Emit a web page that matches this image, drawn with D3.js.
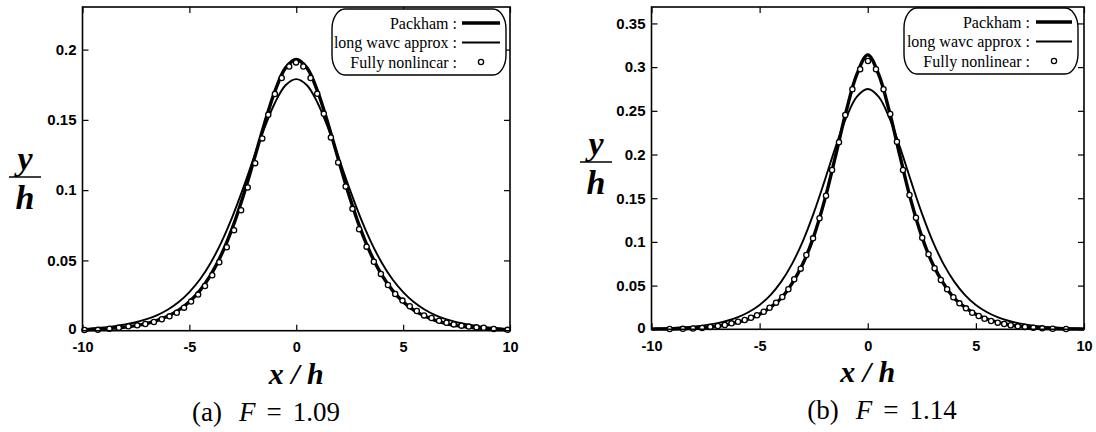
<!DOCTYPE html>
<html><head><meta charset="utf-8">
<script src="https://cdn.jsdelivr.net/npm/d3@7"></script>
<style>body{margin:0;background:#fff} svg{display:block}</style>
</head><body>
<svg id="c" width="1096" height="432"></svg>
<script>
// ---------- data ----------
const xGrid = [-10,-9.5,-9,-8.5,-8,-7.5,-7,-6.5,-6,-5.5,-5,-4.5,-4,-3.5,-3,-2.5,-2,-1.5,-1,-0.5,0,0.5,1,1.5,2,2.5,3,3.5,4,4.5,5,5.5,6,6.5,7,7.5,8,8.5,9,9.5,10];

// panel (a) F = 1.09
const packhamA = [0.0006,0.0009,0.0013,0.0018,0.0025,0.0036,0.0051,0.0073,0.0104,0.0146,0.0206,0.0287,0.0397,0.0542,0.0726,0.0950,0.1204,0.1466,0.1703,0.1870,0.1930,0.1870,0.1703,0.1466,0.1204,0.0950,0.0726,0.0542,0.0397,0.0287,0.0206,0.0146,0.0104,0.0073,0.0051,0.0036,0.0025,0.0018,0.0013,0.0009,0.0006];
const longWaveA = [0.0012,0.0017,0.0023,0.0032,0.0044,0.0060,0.0082,0.0111,0.0151,0.0204,0.0275,0.0366,0.0484,0.0630,0.0806,0.1007,0.1224,0.1437,0.1620,0.1746,0.1790,0.1746,0.1620,0.1437,0.1224,0.1007,0.0806,0.0630,0.0484,0.0366,0.0275,0.0204,0.0151,0.0111,0.0082,0.0060,0.0044,0.0032,0.0023,0.0017,0.0012];
const nonlinXA = [-9.91,-9.28,-8.74,-8.30,-7.85,-7.44,-7.06,-6.66,-6.29,-5.93,-5.59,-5.25,-4.92,-4.59,-4.27,-3.93,-3.60,-3.25,-2.91,-2.58,-2.27,-1.92,-1.59,-1.31,-1.00,-0.68,-0.33,-0.01,0.33,0.67,0.98,1.29,1.62,1.96,2.31,2.63,2.94,3.29,3.63,3.96,4.29,4.63,4.97,5.31,5.64,5.98,6.33,6.68,7.03,7.37,7.73,8.07,8.43,8.77,9.24,9.89];
const nonlinYA = [0.0005,0.0006,0.0014,0.0021,0.0031,0.0038,0.0048,0.0062,0.0081,0.0102,0.0128,0.0164,0.0207,0.0257,0.0318,0.0394,0.0487,0.0594,0.0715,0.0857,0.1019,0.1192,0.1368,0.1536,0.1684,0.1798,0.1880,0.1909,0.1880,0.1798,0.1686,0.1543,0.1375,0.1197,0.1026,0.0867,0.0722,0.0598,0.0491,0.0404,0.0325,0.0261,0.0214,0.0174,0.0140,0.0109,0.0090,0.0071,0.0057,0.0045,0.0036,0.0029,0.0024,0.0021,0.0012,0.0006];

// panel (b) F = 1.14
const packhamB = [0.0002,0.0003,0.0004,0.0007,0.0012,0.0021,0.0034,0.0054,0.0081,0.0118,0.0172,0.0251,0.0356,0.0525,0.0749,0.1061,0.1472,0.1972,0.2493,0.2920,0.3140,0.2920,0.2493,0.1972,0.1472,0.1061,0.0749,0.0525,0.0356,0.0251,0.0172,0.0118,0.0081,0.0054,0.0034,0.0021,0.0012,0.0007,0.0004,0.0003,0.0002];
const longWaveB = [0.0008,0.0011,0.0016,0.0023,0.0033,0.0048,0.0068,0.0098,0.0139,0.0198,0.0279,0.0392,0.0546,0.0749,0.1010,0.1330,0.1695,0.2076,0.2419,0.2662,0.2750,0.2662,0.2419,0.2076,0.1695,0.1330,0.1010,0.0749,0.0546,0.0392,0.0279,0.0198,0.0139,0.0098,0.0068,0.0048,0.0033,0.0023,0.0016,0.0011,0.0008];
const nonlinXB = [-9.16,-8.55,-8.08,-7.66,-7.28,-6.93,-6.61,-6.30,-6.00,-5.69,-5.40,-5.12,-4.81,-4.54,-4.24,-3.95,-3.67,-3.40,-3.10,-2.84,-2.53,-2.23,-1.93,-1.65,-1.33,-1.04,-0.71,-0.35,0.01,0.38,0.73,1.04,1.35,1.63,1.93,2.23,2.52,2.81,3.09,3.38,3.67,3.96,4.24,4.54,4.83,5.13,5.40,5.70,6.01,6.31,6.61,6.94,7.27,7.66,8.07,8.55,9.17];
const nonlinYB = [0.0003,0.0005,0.0010,0.0015,0.0026,0.0038,0.0049,0.0068,0.0087,0.0106,0.0133,0.0160,0.0201,0.0247,0.0305,0.0370,0.0458,0.0572,0.0694,0.0850,0.1041,0.1270,0.1529,0.1823,0.2140,0.2452,0.2746,0.2975,0.3070,0.2975,0.2746,0.2463,0.2146,0.1823,0.1537,0.1277,0.1048,0.0858,0.0698,0.0564,0.0458,0.0366,0.0297,0.0240,0.0190,0.0152,0.0121,0.0095,0.0076,0.0061,0.0046,0.0034,0.0026,0.0018,0.0011,0.0007,0.0004];

const xTicks = [-10,-5,0,5,10];
const xTickLabels = ["-10","-5","0","5","10"];
const yTicksA = [0,0.05,0.1,0.15,0.2];
const yTickLabelsA = ["0","0.05","0.1","0.15","0.2"];
const yTicksB = [0,0.05,0.1,0.15,0.2,0.25,0.3,0.35];
const yTickLabelsB = ["0","0.05","0.1","0.15","0.2","0.25","0.3","0.35"];
const legendLabelsA = ["Packham :","long wavc approx :","Fully nonlincar :"];
const legendLabelsB = ["Packham :","long wavc approx :","Fully nonlinear :"];
const captionA = ["(a)","F","=","1.09"];
const captionB = ["(b)","F","=","1.14"];

// ---------- drawing ----------
const svg = d3.select("#c");
const tickFont = "'Liberation Sans',Arial,sans-serif";
const serif = "'Liberation Serif','Times New Roman',serif";

function panel(cfg){
  const x = d3.scaleLinear().domain([-10,10]).range([cfg.left,cfg.right]);
  const y = d3.scaleLinear().domain([0,cfg.ymax]).range([cfg.bottom,cfg.top]);
  const g = svg.append("g");

  const tickStyle = sel => {
    sel.select(".domain").remove();
    sel.selectAll(".tick line").attr("stroke","#000").attr("stroke-width",1.2);
  };
  const labStyle = (size) => s => s.selectAll("text").attr("font-family",tickFont)
      .attr("font-weight","bold").attr("font-size",size).attr("fill","#000");

  g.append("g").attr("transform",`translate(${cfg.left},0)`)
    .call(d3.axisLeft(y).tickValues(cfg.yTicks).tickSize(-6).tickPadding(6)
      .tickFormat((d,i)=>cfg.yLabels[i]))
    .call(tickStyle).call(labStyle("15px"))
    .call(s=>s.selectAll("text").filter(d=>d===0).attr("dy","0.2em"));
  g.append("g").attr("transform",`translate(${cfg.right},0)`)
    .call(d3.axisRight(y).tickValues(cfg.yTicks).tickSize(-6).tickFormat(""))
    .call(tickStyle);
  g.append("g").attr("transform",`translate(0,${cfg.bottom})`)
    .call(d3.axisBottom(x).tickValues(xTicks).tickSize(-6).tickPadding(11)
      .tickFormat((d,i)=>xTickLabels[i]))
    .call(tickStyle).call(labStyle("14.5px"));
  g.append("g").attr("transform",`translate(0,${cfg.top})`)
    .call(d3.axisTop(x).tickValues(xTicks).tickSize(-6).tickFormat(""))
    .call(tickStyle);

  // curves
  const line = d3.line().x((d,i)=>x(xGrid[i])).y(d=>y(d)).curve(d3.curveCatmullRom.alpha(0.5));
  g.append("path").attr("d",line(cfg.longWave)).attr("fill","none")
    .attr("stroke","#000").attr("stroke-width",1.9);
  g.append("path").attr("d",line(cfg.packham)).attr("fill","none")
    .attr("stroke","#000").attr("stroke-width",3.4);
  g.selectAll("circle.nl").data(cfg.nlX).enter().append("circle").attr("class","nl")
    .attr("cx",d=>x(d)).attr("cy",(d,i)=>y(cfg.nlY[i])).attr("r",2.6)
    .attr("fill","#fff").attr("stroke","#000").attr("stroke-width",1.3);

  // frame
  g.append("rect").attr("x",cfg.left).attr("y",cfg.top)
    .attr("width",cfg.right-cfg.left).attr("height",cfg.bottom-cfg.top)
    .attr("fill","none").attr("stroke","#000").attr("stroke-width",1.6);

  // legend
  const L = cfg.legend;
  g.append("rect").attr("x",L.x0).attr("y",L.y0).attr("width",L.x1-L.x0).attr("height",L.y1-L.y0)
    .attr("rx",13).attr("ry",20).attr("fill","#fff").attr("stroke","#000").attr("stroke-width",1.4);
  const rows = [L.y0+14, L.y0+33.5, L.y0+53];
  cfg.legendLabels.forEach((t,i)=>{
    g.append("text").attr("x",L.textEnd).attr("y",rows[i]).attr("dy","0.35em")
      .attr("text-anchor","end").attr("font-family",serif)
      .attr("font-size","16px").attr("fill","#000").text(t);
  });
  g.append("line").attr("x1",L.lineX0).attr("x2",L.lineX1).attr("y1",rows[0]).attr("y2",rows[0])
    .attr("stroke","#000").attr("stroke-width",3.4);
  g.append("line").attr("x1",L.lineX0).attr("x2",L.lineX1).attr("y1",rows[1]).attr("y2",rows[1])
    .attr("stroke","#000").attr("stroke-width",1.9);
  g.append("circle").attr("cx",(L.lineX0+L.lineX1)/2).attr("cy",rows[2]).attr("r",2.6)
    .attr("fill","#fff").attr("stroke","#000").attr("stroke-width",1.3);

  // y label as fraction
  const yl = cfg.yLabel;
  g.append("text").attr("x",yl.cx).attr("y",yl.lineY-7).attr("text-anchor","middle")
    .attr("font-family",serif).attr("font-style","italic").attr("font-weight","bold")
    .attr("font-size","34px").text("y");
  g.append("line").attr("x1",yl.cx-16).attr("x2",yl.cx+16).attr("y1",yl.lineY).attr("y2",yl.lineY)
    .attr("stroke","#000").attr("stroke-width",1.5);
  g.append("text").attr("x",yl.cx).attr("y",yl.lineY+32).attr("text-anchor","middle")
    .attr("font-family",serif).attr("font-style","italic").attr("font-weight","bold")
    .attr("font-size","34px").text("h");

  // x label
  g.append("text").attr("x",x(0)).attr("y",cfg.bottom+53).attr("text-anchor","middle")
    .attr("font-family",serif).attr("font-style","italic").attr("font-weight","bold")
    .attr("font-size","30px").attr("xml:space","preserve").text("x / h");

  // caption
  const c = cfg.caption;
  const cap = g.append("text").attr("x",cfg.captionX).attr("y",cfg.bottom+90).attr("text-anchor","middle")
    .attr("font-family",serif).attr("font-size","27px").attr("fill","#000");
  cap.append("tspan").text(c[0]);
  cap.append("tspan").attr("dx",17).attr("font-style","italic").text(c[1]);
  cap.append("tspan").attr("dx",11).text(c[2]);
  cap.append("tspan").attr("dx",11).text(c[3]);
}

panel({left:82.5,right:510,top:7,bottom:330.7,ymax:0.2303,
  yTicks:yTicksA,yLabels:yTickLabelsA,packham:packhamA,longWave:longWaveA,
  nlX:nonlinXA,nlY:nonlinYA,legendLabels:legendLabelsA,
  legend:{x0:332,x1:506,y0:9,y1:75,textEnd:457,lineX0:462,lineX1:500},
  yLabel:{cx:25,lineY:177},captionX:266,caption:captionA});

panel({left:651.5,right:1084,top:7,bottom:329.3,ymax:0.3688,
  yTicks:yTicksB,yLabels:yTickLabelsB,packham:packhamB,longWave:longWaveB,
  nlX:nonlinXB,nlY:nonlinYB,legendLabels:legendLabelsB,
  legend:{x0:904,x1:1078,y0:8,y1:74,textEnd:1030,lineX0:1036,lineX1:1072},
  yLabel:{cx:596,lineY:162},captionX:882,caption:captionB});
</script>
</body></html>
